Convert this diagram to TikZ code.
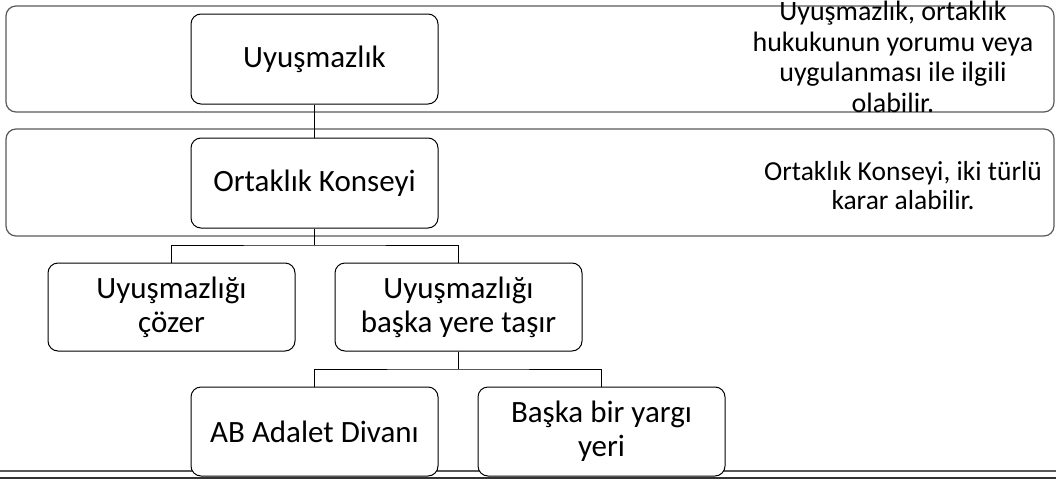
\documentclass[tikz,border=0pt]{standalone}
\usepackage{fontspec}
\setmainfont{Carlito}
\begin{document}
\begin{tikzpicture}[x=1pt,y=-1pt,
  band/.style={draw=black!65, line width=1.2pt, rounded corners=10pt},
  box/.style={draw=black, line width=1pt, rounded corners=10pt, fill=white, inner sep=0pt,
    align=center, font=\fontsize{31}{34}\selectfont},
  conn/.style={draw=black, line width=1pt},
  note/.style={align=center, inner sep=0pt}]
\useasboundingbox (0,0) rectangle (1056,479);
\clip (0,0) rectangle (1056,479);
% bands
\draw[band] (6,6) rectangle (1054,112);
\draw[band] (6,129) rectangle (1054,236);
\draw[band] (0,471) -- (1056,471);
\draw[draw=black!80, line width=1.2pt] (0,478) -- (1056,478);
% nodes
\node[box, minimum width=247pt, minimum height=90pt] (u) at (314.5,59) {Uyuşmazlık};
\node[box, minimum width=247pt, minimum height=90pt] (ok) at (314.5,183) {Ortaklık Konseyi};
\node[box, minimum width=247pt, minimum height=88pt] (c1) at (171.5,307) {Uyuşmazlığı\\çözer};
\node[box, minimum width=247pt, minimum height=88pt] (c2) at (458.5,307) {Uyuşmazlığı\\başka yere taşır};
\node[box, minimum width=247pt, minimum height=89pt] (d1) at (314.5,431.5) {AB Adalet Divanı};
\node[box, minimum width=247pt, minimum height=89pt] (d2) at (601.5,431.5) {Başka bir yargı\\yeri};
\node[note, font=\fontsize{28}{30.5}\selectfont] (n1) at (893,57) {Uyuşmazlık, ortaklık\\hukukunun yorumu veya\\uygulanması ile ilgili\\olabilir.};
\node[note, font=\fontsize{27.5}{29}\selectfont] (n2) at (903,186) {Ortaklık Konseyi, iki türlü\\karar alabilir.};
% connectors
\coordinate (j1) at (314.5,245);
\coordinate (j2) at (458.5,369);
\draw[conn] (u.south) -- (ok.north);
\draw[conn] (ok.south) -- (j1);
\draw[conn] (c1.north) |- (j1) -| (c2.north);
\draw[conn] (c2.south) -- (j2);
\draw[conn] (d1.north) |- (j2) -| (d2.north);
\end{tikzpicture}
\end{document}
